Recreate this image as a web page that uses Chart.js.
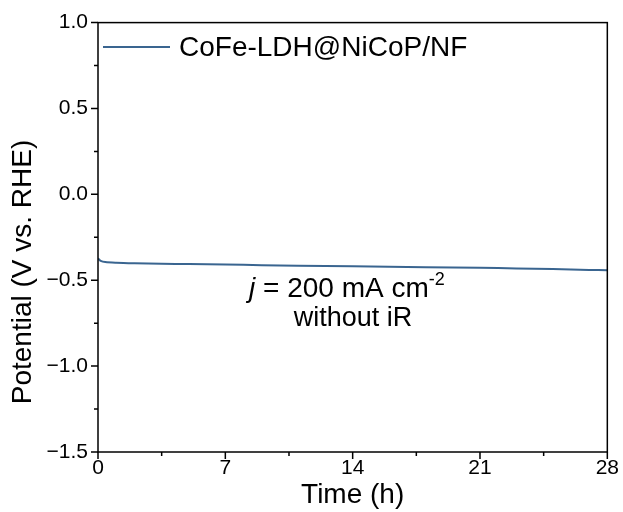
<!DOCTYPE html>
<html>
<head>
<meta charset="utf-8">
<script src="https://cdn.jsdelivr.net/npm/chart.js@4.4.1/dist/chart.umd.min.js"></script>
<style>
  html, body { margin: 0; padding: 0; background: #fff; }
  #wrap { width: 623px; height: 512px; }
</style>
</head>
<body>
<div id="wrap"><canvas id="stabilityChart"></canvas></div>
<script>
// Chronopotentiometry data
const timeHours = [0, 0.15, 0.4, 1, 2, 3.5, 5, 7, 9, 11, 14, 16, 18, 21, 23, 25, 27, 28];
const potential = [-0.373, -0.387, -0.394, -0.398, -0.401, -0.404, -0.406, -0.409, -0.412, -0.415, -0.419, -0.422, -0.425, -0.428, -0.431, -0.435, -0.440, -0.442];
const seriesLabel = 'CoFe-LDH@NiCoP/NF';
const xTicks = [0, 7, 14, 21, 28];
const yTicks = [-1.5, -1.0, -0.5, 0.0, 0.5, 1.0];

const FONT = '"Liberation Sans", Arial, sans-serif';
const LINE_COLOR = '#3a6590';

function isMajor(list, v) {
    return list.some(t => Math.abs(t - v) < 1e-6);
}

const frameAndNotes = {
    id: 'frameAndNotes',
    afterDraw(chart) {
        const ctx = chart.ctx;
        const a = chart.chartArea;
        const xs = chart.scales.x;
        const ys = chart.scales.y;
        ctx.save();
        // box
        ctx.strokeStyle = '#000';
        ctx.lineWidth = 1.5;
        ctx.strokeRect(a.left, a.top, a.right - a.left, a.bottom - a.top);

        // outward tick marks, major long / minor short
        ctx.beginPath();
        xs.ticks.forEach(t => {
            const px = xs.getPixelForValue(t.value);
            const len = isMajor(xTicks, t.value) ? 7 : 4;
            ctx.moveTo(px, a.bottom);
            ctx.lineTo(px, a.bottom + len);
        });
        ys.ticks.forEach(t => {
            const py = ys.getPixelForValue(t.value);
            const len = isMajor(yTicks, t.value) ? 7 : 4;
            ctx.moveTo(a.left, py);
            ctx.lineTo(a.left - len, py);
        });
        ctx.stroke();

        // y axis title (sits a bit below the plot centre in the original)
        ctx.save();
        ctx.translate(23, 272);
        ctx.rotate(-Math.PI / 2);
        ctx.fillStyle = '#000';
        ctx.font = '28px ' + FONT;
        ctx.textAlign = 'center';
        ctx.textBaseline = 'middle';
        ctx.fillText('Potential (V vs. RHE)', 0, 0);
        ctx.restore();

        // legend inside plot
        ctx.strokeStyle = LINE_COLOR;
        ctx.lineWidth = 2;
        ctx.beginPath();
        ctx.moveTo(a.left + 5, 47);
        ctx.lineTo(a.left + 72, 47);
        ctx.stroke();
        ctx.fillStyle = '#000';
        ctx.font = '28px ' + FONT;
        ctx.textBaseline = 'middle';
        ctx.textAlign = 'left';
        ctx.fillText(seriesLabel, a.left + 81, 48);

        // annotation
        ctx.textBaseline = 'alphabetic';
        let x = 249;
        const y1 = 297;
        ctx.font = 'italic 28px ' + FONT;
        ctx.fillText('j', x, y1);
        x += ctx.measureText('j').width;
        ctx.font = '28px ' + FONT;
        ctx.fillText(' = 200 mA cm', x, y1);
        x += ctx.measureText(' = 200 mA cm').width;
        ctx.font = '18px ' + FONT;
        ctx.fillText('-2', x, y1 - 12);
        ctx.font = '27px ' + FONT;
        ctx.textAlign = 'center';
        ctx.fillText('without iR', 353, 326);
        ctx.restore();
    }
};

const ctx = document.getElementById('stabilityChart');

new Chart(ctx, {
    type: 'line',
    data: {
        datasets: [{
            label: seriesLabel,
            data: timeHours.map((t, i) => ({ x: t, y: potential[i] })),
            borderColor: LINE_COLOR,
            borderWidth: 2,
            pointRadius: 0,
            tension: 0.3,
            fill: false
        }]
    },
    options: {
        responsive: true,
        maintainAspectRatio: false,
        animation: false,
        layout: { padding: { top: 22, right: 15, left: 0, bottom: 0 } },
        plugins: {
            legend: { display: false },
            tooltip: { enabled: false }
        },
        scales: {
            x: {
                type: 'linear',
                min: 0,
                max: 28,
                afterBuildTicks(scale) {
                    const t = [];
                    for (let v = 0; v <= 28; v += 3.5) t.push({ value: v });
                    scale.ticks = t;
                },
                afterFit(scale) { scale.height = 60; },
                border: { display: false },
                grid: { display: false, drawTicks: false },
                ticks: {
                    color: '#000',
                    font: { family: FONT, size: 21 },
                    padding: 4,
                    maxRotation: 0,
                    autoSkip: false,
                    callback: v => isMajor(xTicks, v) ? String(v) : ''
                },
                title: {
                    display: true,
                    text: 'Time (h)',
                    color: '#000',
                    font: { family: FONT, size: 28 },
                    padding: { top: 0, bottom: 0 }
                }
            },
            y: {
                type: 'linear',
                min: -1.5,
                max: 1.0,
                afterBuildTicks(scale) {
                    const t = [];
                    for (let v = -1.5; v <= 1.0001; v += 0.25) t.push({ value: Math.round(v * 100) / 100 });
                    scale.ticks = t;
                },
                afterFit(scale) { scale.width = 98; },
                border: { display: false },
                grid: { display: false, drawTicks: false },
                ticks: {
                    color: '#000',
                    font: { family: FONT, size: 21 },
                    padding: 10,
                    autoSkip: false,
                    callback: v => isMajor(yTicks, v) ? v.toFixed(1).replace('-', '\u2212') : ''
                }
            }
        }
    },
    plugins: [frameAndNotes]
});
</script>
</body>
</html>
